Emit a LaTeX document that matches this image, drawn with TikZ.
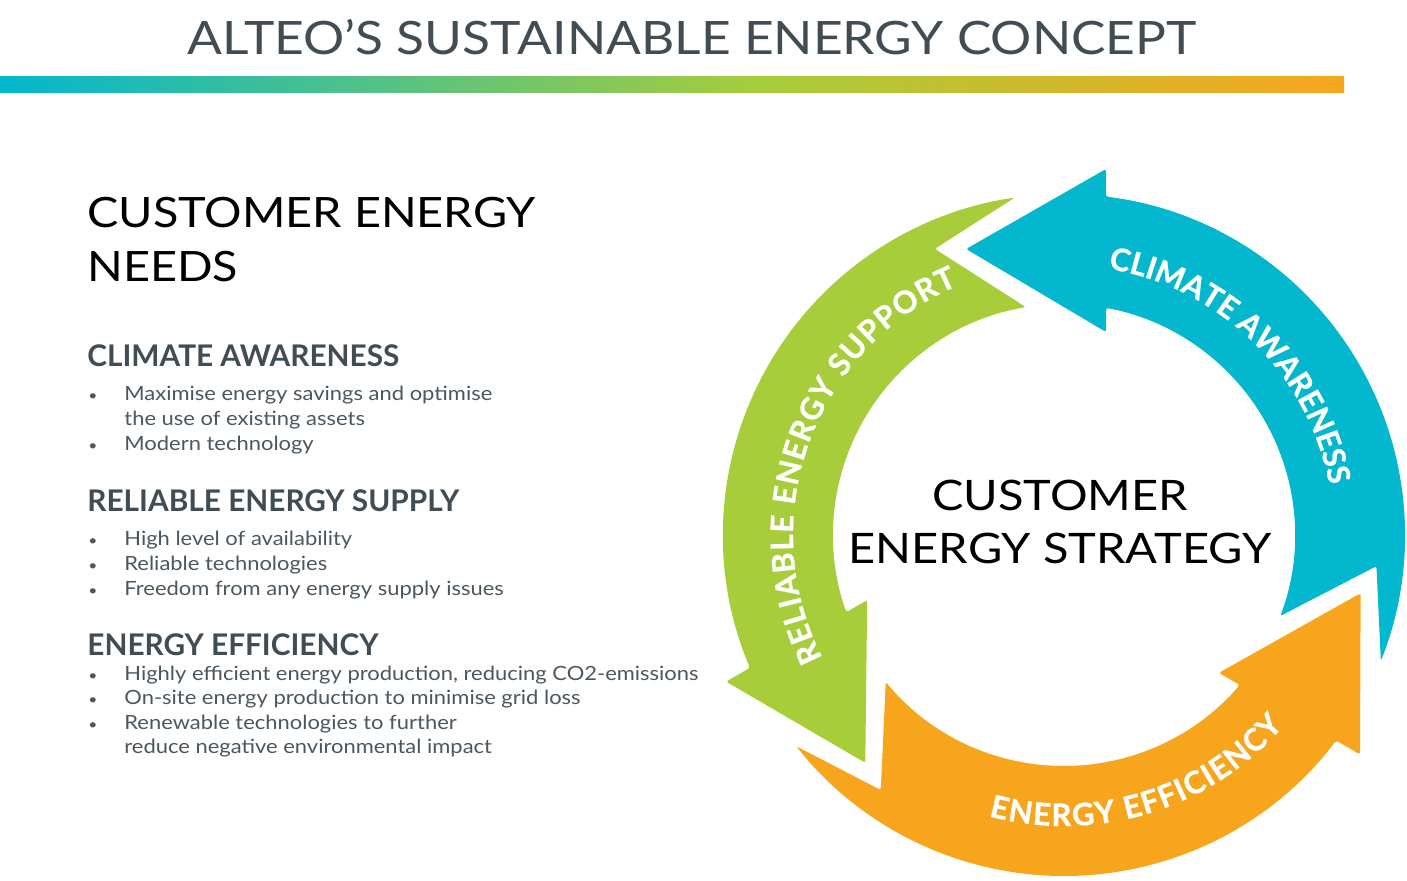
\documentclass[tikz,border=0pt]{standalone}
\usepackage{fontspec}
\setmainfont{Lato}
\newfontfamily\thinfont[FakeStretch=1.12]{Lato}
\newfontfamily\ringfont[FakeBold=0.8]{Lato}
\usetikzlibrary{decorations.text}

\definecolor{cyanc}{HTML}{02B7CE}
\definecolor{greenc}{HTML}{A8CD3A}
\definecolor{orangec}{HTML}{F8A51E}
\definecolor{slate}{HTML}{404D55}
\definecolor{bodygray}{HTML}{4B575F}

\pgfdeclarehorizontalshading{alteobar}{100bp}{color(0bp)=(cyanc); color(25bp)=(cyanc); color(53.5bp)=(greenc); color(75bp)=(orangec); color(100bp)=(orangec)}

\newcommand{\listdot}{{\fontsize{7pt}{7pt}\selectfont\textbullet}}

\tikzset{
  titletext/.style={font=\thinfont\fontsize{23pt}{23pt}\selectfont, text=slate, inner sep=0},
  bigtext/.style={font=\thinfont\fontsize{20.9pt}{27pt}\selectfont, text=black, inner sep=0},
  headtext/.style={font=\bfseries\fontsize{14.9pt}{14.9pt}\selectfont, text=slate, inner sep=0, anchor=base west},
  listtext/.style={font=\thinfont\fontsize{9.8pt}{12.5pt}\selectfont, text=bodygray, inner sep=0, anchor=base west},
  ringlabel/.style={decorate, decoration={text along path, text color=white, text align=fit to path,
      text={|\ringfont\bfseries\fontsize{15.5pt}{15.5pt}\selectfont|#1}}},
  pics/ringarrow/.style={code={
    \fill[#1, rounded corners=1.2pt] (108.9:302.3) -- (42,366) -- (82.93:341)
      arc[start angle=82.93, end angle=-21.7, radius=341] -- (-5.7:314) -- (-20.5:231)
      arc[start angle=-20.5, end angle=79.52, radius=231] -- (42,203) -- cycle;
  }}
}

\begin{document}
\begin{tikzpicture}[x=0.5pt, y=0.5pt]
  \useasboundingbox (0,0) rectangle (1407,880);
  \fill[white] (0,0) rectangle (1407,880);

  %title and bar
  \node[titletext, anchor=base] (title) at (692,825) {ALTEO’S SUSTAINABLE ENERGY CONCEPT};
  \shade[shading=alteobar] (0,787) rectangle (1344,803);

  %needs
  \node[bigtext, anchor=base west] (needs) at (87,653)
    {\begin{tabular}[t]{@{}l@{}}CUSTOMER ENERGY\\NEEDS\end{tabular}};

  \node[headtext] (climate) at (87,514) {CLIMATE AWARENESS};
  \node[listtext] (climate list) at (88,480) {\begin{tabular}[t]{@{}p{18pt}@{}l@{}}
    \listdot & Maximise energy savings and optimise\\
             & the use of existing assets\\
    \listdot & Modern technology\end{tabular}};

  \node[headtext] (supply) at (87,369) {RELIABLE ENERGY SUPPLY};
  \node[listtext] (supply list) at (88,335) {\begin{tabular}[t]{@{}p{18pt}@{}l@{}}
    \listdot & High level of availability\\
    \listdot & Reliable technologies\\
    \listdot & Freedom from any energy supply issues\end{tabular}};

  \node[headtext] (efficiency) at (87,225) {ENERGY EFFICIENCY};
  \node[listtext, font=\thinfont\fontsize{9.8pt}{12.25pt}\selectfont] (efficiency list) at (88,200)
    {\begin{tabular}[t]{@{}p{18pt}@{}l@{}}
    \listdot & Highly efficient energy production, reducing CO2-emissions\\
    \listdot & On-site energy production to minimise grid loss\\
    \listdot & Renewable technologies to further\\
             & reduce negative environmental impact\end{tabular}};

  %cycle
  \coordinate (C) at (1064,345);
  \pic at (C) {ringarrow=cyanc};
  \pic[rotate=120] at (C) {ringarrow=greenc};
  \pic[rotate=240] at (C) {ringarrow=orangec};

  \begin{scope}[shift={(C)}]
    \path[ringlabel=CLIMATE AWARENESS] (80.6:270) arc[start angle=80.6, end angle=11.1, radius=270];
    \path[ringlabel=RELIABLE ENERGY SUPPORT] (207:271) arc[start angle=207, end angle=113, radius=271];
    \path[ringlabel=ENERGY EFFICIENCY] (255:291) arc[start angle=255, end angle=319, radius=291];
  \end{scope}

  \node[bigtext, font=\thinfont\fontsize{21pt}{26.5pt}\selectfont, anchor=base] (strategy) at (1060,370)
    {\begin{tabular}[t]{@{}c@{}}CUSTOMER\\ENERGY STRATEGY\end{tabular}};
\end{tikzpicture}
\end{document}
